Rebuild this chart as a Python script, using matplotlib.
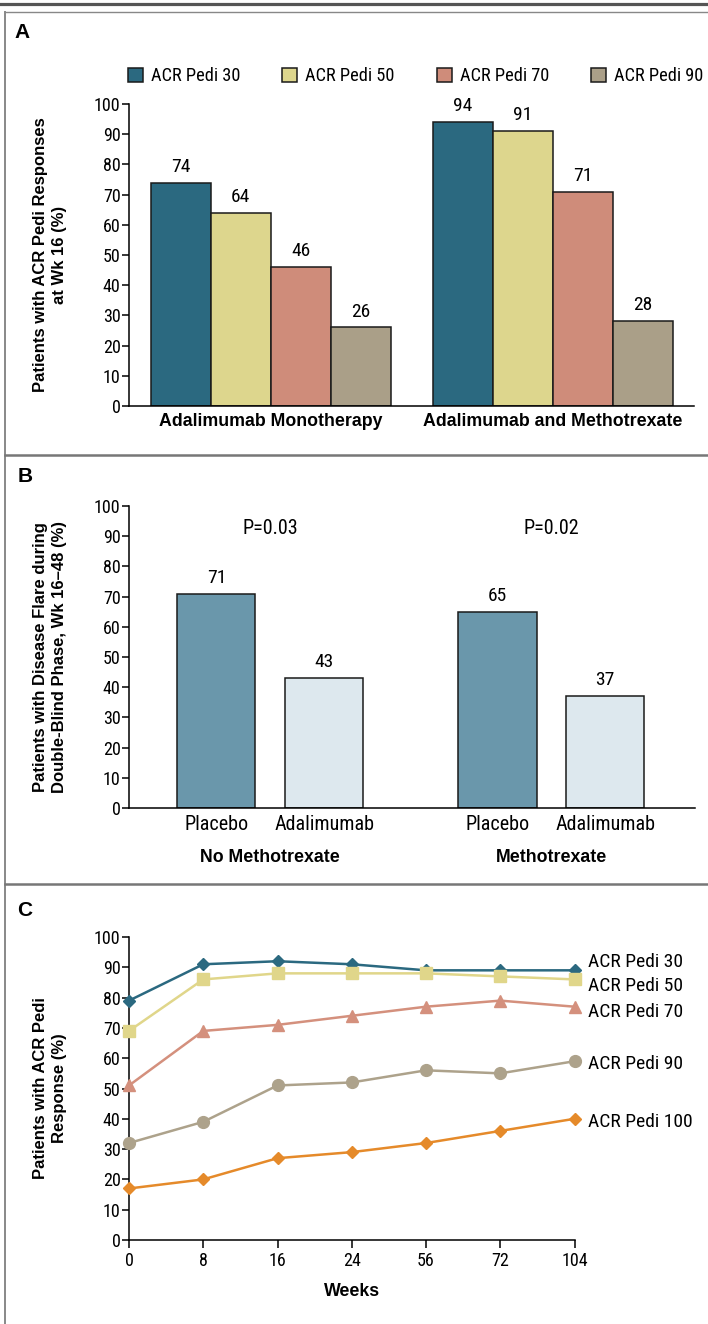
import matplotlib
matplotlib.use('Agg')
import matplotlib.pyplot as plt
from matplotlib import font_manager
from matplotlib.lines import Line2D

W, H = 708, 1324

# Panel A: ACR Pedi responses at week 16 (%)
groups_a = ['Adalimumab Monotherapy', 'Adalimumab and Methotrexate']
series_a = ['ACR Pedi 30', 'ACR Pedi 50', 'ACR Pedi 70', 'ACR Pedi 90']
mono_a = [74, 64, 46, 26]
mtx_a = [94, 91, 71, 28]

# Panel B: disease flare, weeks 16-48 (%)
groups_b = ['No Methotrexate', 'Methotrexate']
arms_b = ['Placebo', 'Adalimumab']
no_mtx_b = [71, 43]
mtx_b = [65, 37]
pvals_b = ['P=0.03', 'P=0.02']

# Panel C: ACR Pedi response over time (%)
weeks_c = ['0', '8', '16', '24', '56', '72', '104']
series_c = ['ACR Pedi 30', 'ACR Pedi 50', 'ACR Pedi 70', 'ACR Pedi 90', 'ACR Pedi 100']
pedi30_c = [79, 91, 92, 91, 89, 89, 89]
pedi50_c = [69, 86, 88, 88, 88, 87, 86]
pedi70_c = [51, 69, 71, 74, 77, 79, 77]
pedi90_c = [32, 39, 51, 52, 56, 55, 59]
pedi100_c = [17, 20, 27, 29, 32, 36, 40]

colors_a = ['#2b6980', '#ddd68d', '#cf8c7a', '#aa9f88']
colors_b = ['#6a97ab', '#dde8ee']
colors_c = ['#2b6980', '#e0d68a', '#d4907d', '#ada28b', '#e58a2a']
markers_c = ['D', 's', '^', 'o', 'D']


def pick(cands):
    names = {f.name for f in font_manager.fontManager.ttflist}
    for c in cands:
        if c in names:
            return c
    return 'DejaVu Sans'


NARROW = pick(['Liberation Sans Narrow', 'Roboto Condensed', 'Liberation Sans'])
BOLD = pick(['Liberation Sans', 'Roboto'])
plt.rcParams['font.family'] = [NARROW, 'DejaVu Sans']

fig = plt.figure(figsize=(W / 100, H / 100), dpi=100)


def px_ax(l, t, r, b):
    return fig.add_axes([l / W, 1 - b / H, (r - l) / W, (b - t) / H])


def style(ax):
    for s in ['top', 'right']:
        ax.spines[s].set_visible(False)
    for s in ['left', 'bottom']:
        ax.spines[s].set_linewidth(1.1)
    ax.set_ylim(0, 100)
    ax.set_yticks(range(0, 101, 10))
    ax.tick_params(axis='y', length=5, width=1.1, labelsize=13, pad=1)


def fig_text(x, y, s, **kw):
    fig.text(x / W, 1 - y / H, s, **kw)


def bold_kw(size=12):
    return dict(family=[BOLD, 'DejaVu Sans'], fontweight='bold', fontsize=size)


# frame
fig.add_artist(Line2D([0, 1], [1 - 4 / H] * 2, color='#555555', lw=2.3))
fig.add_artist(Line2D([5 / W, 1], [1 - 12 / H] * 2, color='#888888', lw=1.0))
fig.add_artist(Line2D([5 / W] * 2, [1 - 12 / H, 0], color='#888888', lw=1.4))
for yy in [455, 884]:
    fig.add_artist(Line2D([5 / W, 1], [1 - yy / H] * 2, color='#777777', lw=1.8))

# ---------------- Panel A ----------------
axA = px_ax(129, 104, 694, 406)
style(axA)
centers_a = [0, 4.7]
offs = [-1.5, -0.5, 0.5, 1.5]
handles = []
for i, name in enumerate(series_a):
    vals = [mono_a[i], mtx_a[i]]
    xs = [c + offs[i] for c in centers_a]
    b = axA.bar(xs, vals, width=1.0, color=colors_a[i], edgecolor='#1a1a1a',
                linewidth=1.1, label=name, zorder=2)
    handles.append(b)
    for x, v in zip(xs, vals):
        axA.text(x, v + 2.3, str(v), ha='center', va='bottom', fontsize=14)
axA.set_xlim(-2.36, 7.05)
axA.set_xticks(centers_a)
axA.set_xticklabels(groups_a, **bold_kw(12.8))
axA.tick_params(axis='x', length=0, pad=5)
fig.legend(handles=handles, labels=series_a, loc='center left',
           bbox_to_anchor=(128 / W, 1 - 76 / H), ncol=4, frameon=False,
           borderpad=0, borderaxespad=0, handlelength=0.8, handleheight=0.8,
           handletextpad=0.45, columnspacing=2.3, fontsize=13.2)
fig_text(50, 255, 'Patients with ACR Pedi Responses\nat Wk 16 (%)', rotation=90,
         ha='center', va='center', multialignment='center', linespacing=1.3,
         **bold_kw(12))
fig_text(22, 33, 'A', ha='center', va='center', **bold_kw(15))

# ---------------- Panel B ----------------
axB = px_ax(129, 506, 695, 808)
style(axB)
pos_b = [[0, 1.38], [3.6, 4.98]]
for g, vals in enumerate([no_mtx_b, mtx_b]):
    for j, v in enumerate(vals):
        axB.bar(pos_b[g][j], v, width=1.0, color=colors_b[j], edgecolor='#1a1a1a',
                linewidth=1.1, zorder=2)
        axB.text(pos_b[g][j], v + 2.3, str(v), ha='center', va='bottom', fontsize=14)
    cx = sum(pos_b[g]) / 2
    axB.text(cx, 92.5, pvals_b[g], ha='center', va='center', fontsize=14.5)
    axB.text(cx, -0.163, groups_b[g], transform=axB.get_xaxis_transform(),
             ha='center', va='center', **bold_kw(12.8))
axB.set_xlim(-1.12, 6.13)
axB.set_xticks(pos_b[0] + pos_b[1])
axB.set_xticklabels(arms_b * 2, fontsize=14.5)
axB.tick_params(axis='x', length=0, pad=5)
fig_text(50, 657, 'Patients with Disease Flare during\nDouble-Blind Phase, Wk 16\u201348 (%)',
         rotation=90, ha='center', va='center', multialignment='center',
         linespacing=1.3, **bold_kw(12))
fig_text(25, 476, 'B', ha='center', va='center', **bold_kw(15))

# ---------------- Panel C ----------------
axC = px_ax(129, 937, 574.5, 1240)
style(axC)
x_c = list(range(len(weeks_c)))
label_y_c = [91.9, 83.7, 75.4, 58.1, 38.8]
for i, vals in enumerate([pedi30_c, pedi50_c, pedi70_c, pedi90_c, pedi100_c]):
    ms = 6.5 if markers_c[i] == 'D' else 8.5
    axC.plot(x_c, vals, color=colors_c[i], lw=1.8, marker=markers_c[i],
             markersize=ms, clip_on=False, zorder=3)
    axC.text(6.18, label_y_c[i], series_c[i], ha='left', va='center', fontsize=14)
axC.set_xlim(0, 6)
axC.set_xticks(x_c)
axC.set_xticklabels(weeks_c, fontsize=13)
axC.tick_params(axis='x', length=6, width=1.1, pad=3)
axC.set_xlabel('Weeks', labelpad=9, **bold_kw(12.8))
fig_text(50, 1088, 'Patients with ACR Pedi\nResponse (%)', rotation=90,
         ha='center', va='center', multialignment='center', linespacing=1.3,
         **bold_kw(12))
fig_text(25, 910, 'C', ha='center', va='center', **bold_kw(15))

fig.savefig('out.png', dpi=100)
